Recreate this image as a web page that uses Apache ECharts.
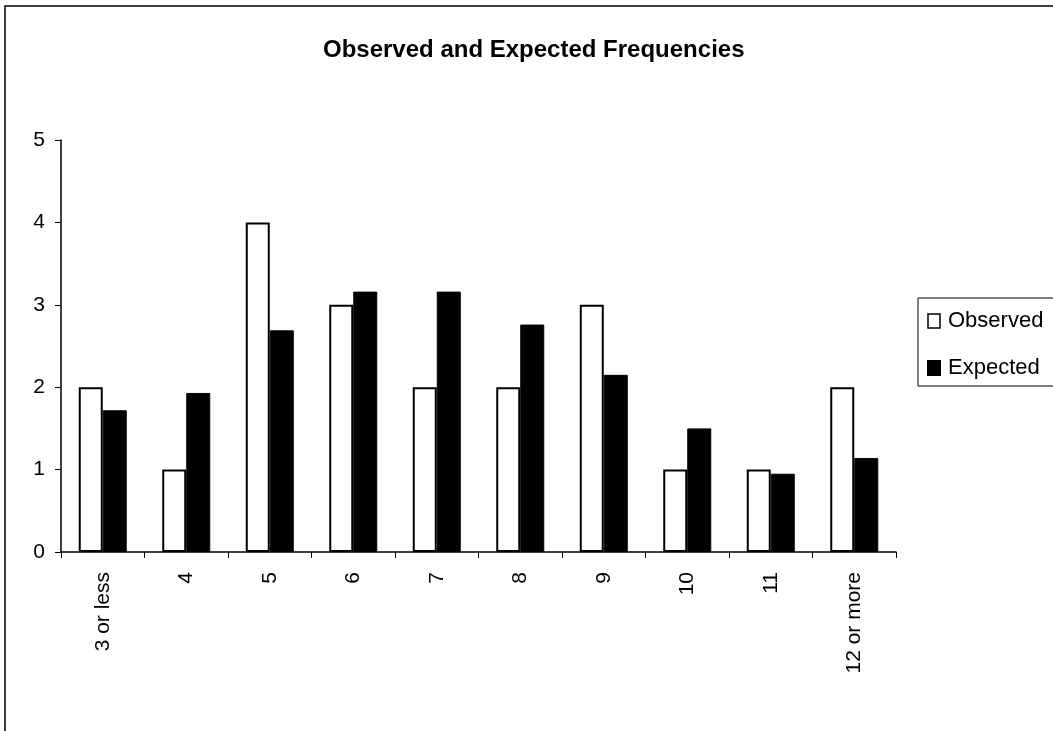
<!DOCTYPE html>
<html>
<head>
<meta charset="utf-8">
<script src="https://cdn.jsdelivr.net/npm/echarts@6/dist/echarts.min.js"></script>
<style>
  html, body { margin: 0; padding: 0; background: #fff; }
  #chart { width: 1053px; height: 731px; }
</style>
</head>
<body>
<div id="chart"></div>
<script>
// Number of occurrences per class
const categories = ['3 or less', '4', '5', '6', '7', '8', '9', '10', '11', '12 or more'];
const observed = [2, 1, 4, 3, 2, 2, 3, 1, 1, 2];
const expected = [1.72, 1.93, 2.69, 3.16, 3.16, 2.76, 2.15, 1.50, 0.95, 1.14];
const yTicks = [0, 1, 2, 3, 4, 5];

const FONT = '"Liberation Sans", Arial, sans-serif';

const chart = echarts.init(document.getElementById('chart'));
chart.setOption({
  animation: false,
  backgroundColor: '#fff',
  title: {
    text: 'Observed and Expected Frequencies',
    left: 318,
    top: 33,
    textStyle: { fontFamily: FONT, fontWeight: 'bold', fontSize: 24, color: '#000' }
  },
  legend: {
    orient: 'vertical',
    left: 918,
    top: 298,
    padding: [12, 30, 7, 9],
    itemGap: 25,
    itemWidth: 12,
    itemHeight: 14,
    borderColor: '#000',
    borderWidth: 1,
    textStyle: { fontFamily: FONT, fontSize: 22, color: '#000', padding: [0, 0, 0, 3] },
    data: [
      { name: 'Observed', icon: 'rect', itemStyle: { color: '#fff', borderColor: '#000', borderWidth: 1.5 } },
      { name: 'Expected', icon: 'rect', itemStyle: { color: '#000' } }
    ]
  },
  grid: { left: 61, right: 157, top: 140, bottom: 179, containLabel: false },
  xAxis: {
    type: 'category',
    data: categories,
    axisLine: { lineStyle: { color: '#000', width: 1.5 } },
    axisTick: { show: true, inside: false, length: 6, lineStyle: { color: '#000' } },
    axisLabel: {
      rotate: 90,
      margin: 20,
      fontFamily: FONT,
      fontSize: 21,
      color: '#000'
    },
    splitLine: { show: false }
  },
  yAxis: {
    type: 'value',
    min: yTicks[0],
    max: yTicks[yTicks.length - 1],
    interval: 1,
    axisLine: { show: true, lineStyle: { color: '#000', width: 1.5 } },
    axisTick: { show: true, length: 6, lineStyle: { color: '#000' } },
    axisLabel: { fontFamily: FONT, fontSize: 21, color: '#000', margin: 16 },
    splitLine: { show: false }
  },
  series: [
    {
      name: 'Observed',
      type: 'bar',
      data: observed,
      barWidth: 24,
      barGap: '0%',
      itemStyle: { color: '#fff', borderColor: '#000', borderWidth: 2 }
    },
    {
      name: 'Expected',
      type: 'bar',
      data: expected,
      barWidth: 24,
      barGap: '0%',
      itemStyle: { color: '#000', borderColor: '#000', borderWidth: 1 }
    }
  ],
  graphic: [
    {
      type: 'rect',
      shape: { x: 5, y: 6, width: 1100, height: 800 },
      style: { fill: 'none', stroke: '#000', lineWidth: 1.5 },
      silent: true
    }
  ]
});
</script>
</body>
</html>
